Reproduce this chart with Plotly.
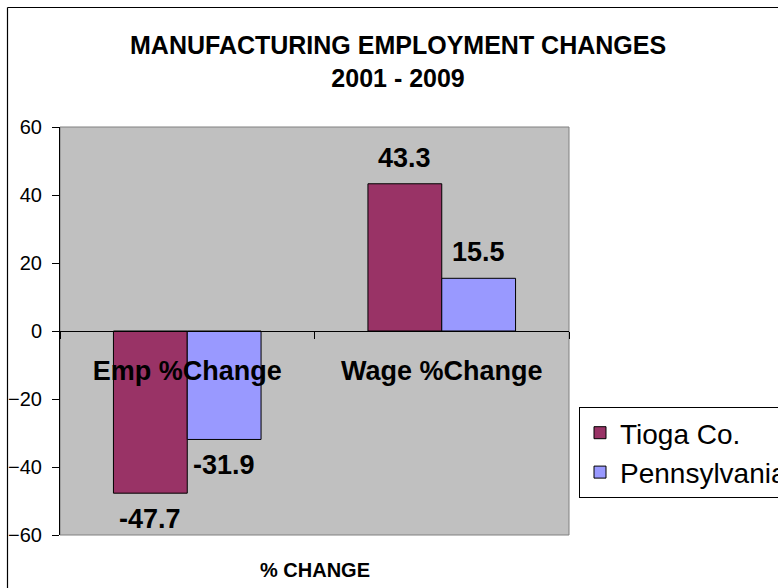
import plotly.graph_objects as go

categories = ["Emp %Change", "Wage %Change"]
tioga = [-47.7, 43.3]
penn = [-31.9, 15.5]
series_names = ["Tioga Co.", "Pennsylvania"]
y_ticks = [-60, -40, -20, 0, 20, 40, 60]

FONT = "Liberation Sans, Arial, sans-serif"
W, H = 778, 588
L, R, T, B = 60, 209, 127, 53
pw, ph = W - L - R, H - T - B


def px_x(x):
    return (x - L) / pw


def px_y(y):
    return (H - B - y) / ph


fig = go.Figure()
fig.add_trace(go.Bar(x=categories, y=tioga, name=series_names[0],
                     marker=dict(color="#993366", line=dict(color="black", width=1)),
                     legendgroup="a"))
fig.add_trace(go.Bar(x=categories, y=penn, name=series_names[1],
                     marker=dict(color="#9999FF", line=dict(color="black", width=1)),
                     legendgroup="b"))

annotations = []
for vals, shift in ((tioga, -37), (penn, 37)):
    for c, v in zip(categories, vals):
        annotations.append(dict(
            x=c, y=v, xref="x", yref="y", text=f"{v:.1f}", showarrow=False,
            xshift=shift, yanchor="bottom" if v >= 0 else "top",
            yshift=9 if v >= 0 else -9,
            font=dict(family=FONT, size=27, color="black", weight="bold")))

annotations.append(dict(x=px_x(398), y=px_y(29), xref="paper", yref="paper",
                        text="MANUFACTURING EMPLOYMENT CHANGES<br>2001 - 2009",
                        showarrow=False, xanchor="center", yanchor="top",
                        font=dict(family=FONT, size=25, color="black", weight="bold")))
annotations.append(dict(x=px_x(315), y=px_y(570), xref="paper", yref="paper",
                        text="% CHANGE", showarrow=False, yanchor="middle", xanchor="center",
                        font=dict(family=FONT, size=20, color="black", weight="bold")))

bx = px_x(7.5)
by = px_y(7.5)
shapes = [
    dict(type="rect", xref="paper", yref="paper", x0=0, x1=1, y0=0, y1=1,
         line=dict(color="#808080", width=1), layer="below"),
    dict(type="line", xref="paper", yref="paper", x0=bx, x1=1.6, y0=by, y1=by,
         line=dict(color="black", width=1.2)),
    dict(type="line", xref="paper", yref="paper", x0=bx, x1=bx, y0=by, y1=-0.3,
         line=dict(color="black", width=1.2)),
]

fig.update_layout(
    width=W, height=H,
    margin=dict(l=L, r=R, t=T, b=B, autoexpand=False),
    paper_bgcolor="white", plot_bgcolor="#C0C0C0",
    barmode="group", bargap=0.42, bargroupgap=0,
    xaxis=dict(type="category", anchor="free", position=0.5,
               showline=True, linecolor="black", linewidth=1,
               ticks="outside", tickson="boundaries", ticklen=7, tickcolor="black",
               ticklabelstandoff=16, showgrid=False, zeroline=False,
               tickfont=dict(family=FONT, size=27, color="black", weight="bold")),
    yaxis=dict(range=[-60, 60], tickvals=y_ticks, showline=True, linecolor="black",
               linewidth=1, ticks="outside", ticklen=7, tickcolor="black",
               showgrid=False, zeroline=False, ticklabelstandoff=6,
               tickfont=dict(family=FONT, size=20, color="black")),
    legend=dict(x=px_x(579), y=px_y(407), xanchor="left", yanchor="top",
                bgcolor="white", bordercolor="black", borderwidth=1,
                font=dict(family=FONT, size=28, color="black"),
                tracegroupgap=4, traceorder="normal"),
    annotations=annotations, shapes=shapes,
)

fig.write_html("out.html", config={"displayModeBar": False},
               post_script="document.body.style.margin='0';")
